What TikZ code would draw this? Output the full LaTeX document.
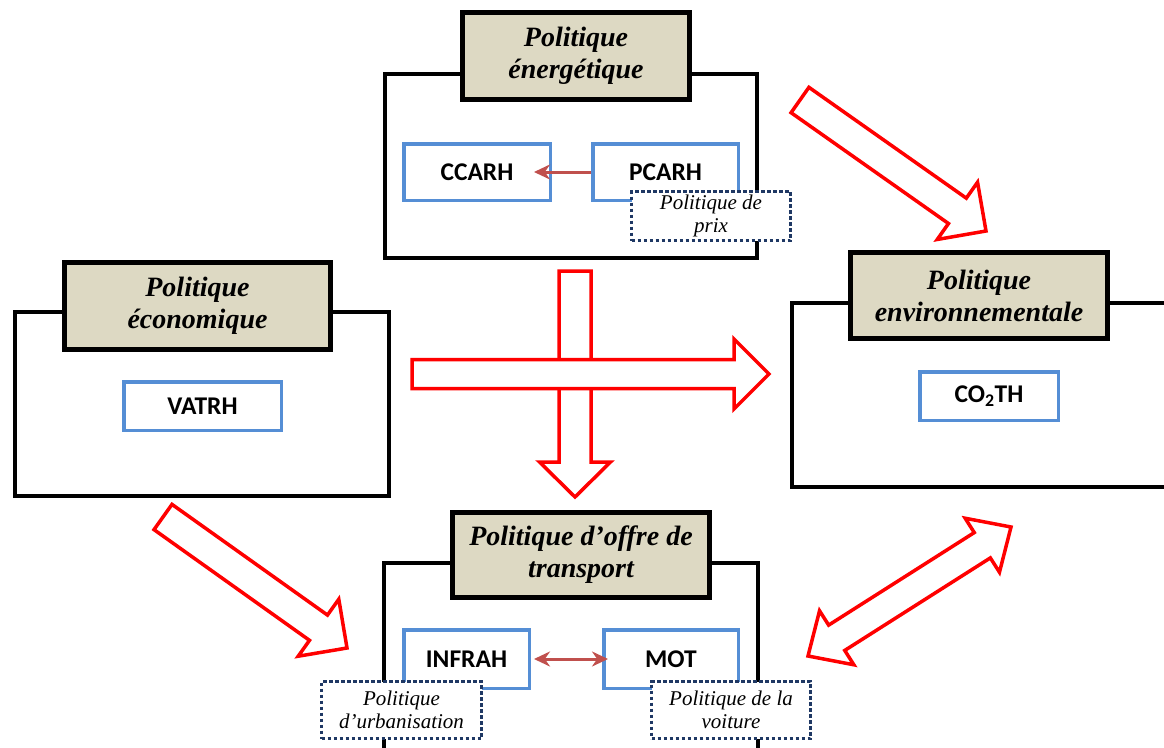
\documentclass[tikz,border=0pt]{standalone}
\usepackage{fontspec}
\setmainfont{Liberation Serif}
\newfontfamily\varfamily{Carlito}
\usepackage{xcolor}
\usetikzlibrary{calc,arrows.meta}

\definecolor{titlefill}{HTML}{DDD9C3}
\definecolor{varblue}{HTML}{558ED5}
\definecolor{notenavy}{HTML}{1F3864}
\definecolor{linkred}{HTML}{C0504D}

% outline block arrow: from, to, half shaft, half head, head length
\newcommand\blockarrow[5]{%
  \coordinate (hd) at ($(#2)!#5!(#1)$);
  \draw[bigarrow] ($(#1)!#3!90:(#2)$) -- ($(hd)!#3!-90:(#1)$) -- ($(hd)!#4!-90:(#1)$) -- (#2)
    -- ($(hd)!#4!90:(#1)$) -- ($(hd)!#3!90:(#1)$) -- ($(#1)!#3!-90:(#2)$) -- cycle;}
\newcommand\blockdblarrow[5]{%
  \coordinate (ha) at ($(#1)!#5!(#2)$);
  \coordinate (hb) at ($(#2)!#5!(#1)$);
  \draw[bigarrow] (#1) -- ($(ha)!#4!90:(#2)$) -- ($(ha)!#3!90:(#2)$) -- ($(hb)!#3!-90:(#1)$)
    -- ($(hb)!#4!-90:(#1)$) -- (#2) -- ($(hb)!#4!90:(#1)$) -- ($(hb)!#3!90:(#1)$)
    -- ($(ha)!#3!-90:(#2)$) -- ($(ha)!#4!-90:(#2)$) -- cycle;}

\begin{document}
\begin{tikzpicture}[
    x=1pt,y=-1pt,
    polframe/.style={draw,line width=4pt,inner sep=0pt},
    poltitle/.style={draw,line width=5pt,fill=titlefill,inner sep=0pt,align=center,font=\bfseries\itshape\fontsize{28}{32}\selectfont},
    varbox/.style={draw=varblue,line width=3.5pt,fill=white,inner sep=0pt,font=\varfamily\bfseries\fontsize{25.5}{28}\selectfont},
    notebox/.style={draw=notenavy,line width=3.5pt,dash pattern=on 3.5pt off 2.5pt,fill=white,inner sep=0pt,align=center,font=\itshape\fontsize{21}{23}\selectfont},
    bigarrow/.style={draw=red,line width=3.5pt,fill=white,line join=miter},
    linkarr/.style={draw=linkred,line width=3pt,-{Stealth[length=16pt,width=15pt]}}
]
\clip (0,0) rectangle (1164,747);

\node[polframe,minimum width=372pt,minimum height=184pt] (enframe) at (571,166) {};
\node[polframe,minimum width=374.5pt,minimum height=184.5pt] (ecoframe) at (202,404) {};
\node[polframe,minimum width=408pt,minimum height=184.5pt] (envframe) at (996,395) {};
\node[polframe,minimum width=374.5pt,minimum height=237pt] (trframe) at (571,681.5) {};

\node[poltitle,minimum width=227pt,minimum height=87pt] (entitle) at (576,56) {Politique\\énergétique};
\node[poltitle,minimum width=266pt,minimum height=87pt] (ecotitle) at (197.5,306) {Politique\\économique};
\node[poltitle,minimum width=257pt,minimum height=86pt] (envtitle) at (979,295.5) {Politique\\environnementale};
\node[poltitle,minimum width=257pt,minimum height=85pt] (trtitle) at (581,555) {Politique d’offre de\\transport};

\node[varbox,minimum width=146.5pt,minimum height=56.5pt] (ccarh) at (477,172) {CCARH};
\node[varbox,minimum width=145.5pt,minimum height=56.5pt] (pcarh) at (665.5,172) {PCARH};
\node[varbox,minimum width=157.5pt,minimum height=48.5pt] (vatrh) at (202.5,406) {VATRH};
\node[varbox,minimum width=138.5pt,minimum height=48.5pt] (co2th) at (989,396) {CO\textsubscript{2}TH};
\node[varbox,minimum width=125.5pt,minimum height=58.5pt] (infrah) at (466.5,659) {INFRAH};
\node[varbox,minimum width=134.5pt,minimum height=58.5pt] (mot) at (671,659) {MOT};

\draw[linkarr] (pcarh.west) -- ([xshift=-18pt]ccarh.east);
\draw[linkarr,{Stealth[length=16pt,width=15pt]}-{Stealth[length=16pt,width=15pt]}] ([xshift=3pt]infrah.east) -- ([xshift=6pt]mot.west);

\node[notebox,minimum width=159pt,minimum height=49pt] (prix) at (711,216) {Politique de\\prix};
\node[notebox,minimum width=160pt,minimum height=57pt] (urba) at (401.5,710) {Politique\\d’urbanisation};
\node[notebox,minimum width=159pt,minimum height=57pt] (voiture) at (731,710) {Politique de la\\voiture};

\coordinate (vtail) at (575,271);
\coordinate (vtip) at (575,497);
\coordinate (htail) at (412,374);
\coordinate (htip) at (769,374);
\coordinate (entail) at (800,100);
\coordinate (entip) at (986,231);
\coordinate (ecotail) at (163,517);
\coordinate (ecotip) at (347,648);
\coordinate (trend) at (808,656);
\coordinate (envend) at (1011,527);

\blockarrow{vtail}{vtip}{16pt}{35.5pt}{35pt}
\blockarrow{htail}{htip}{14.5pt}{35pt}{35pt}
\blockarrow{entail}{entip}{15.5pt}{35pt}{35pt}
\blockarrow{ecotail}{ecotip}{15.5pt}{35pt}{35pt}
\blockdblarrow{trend}{envend}{15pt}{32pt}{34pt}
\end{tikzpicture}
\end{document}
